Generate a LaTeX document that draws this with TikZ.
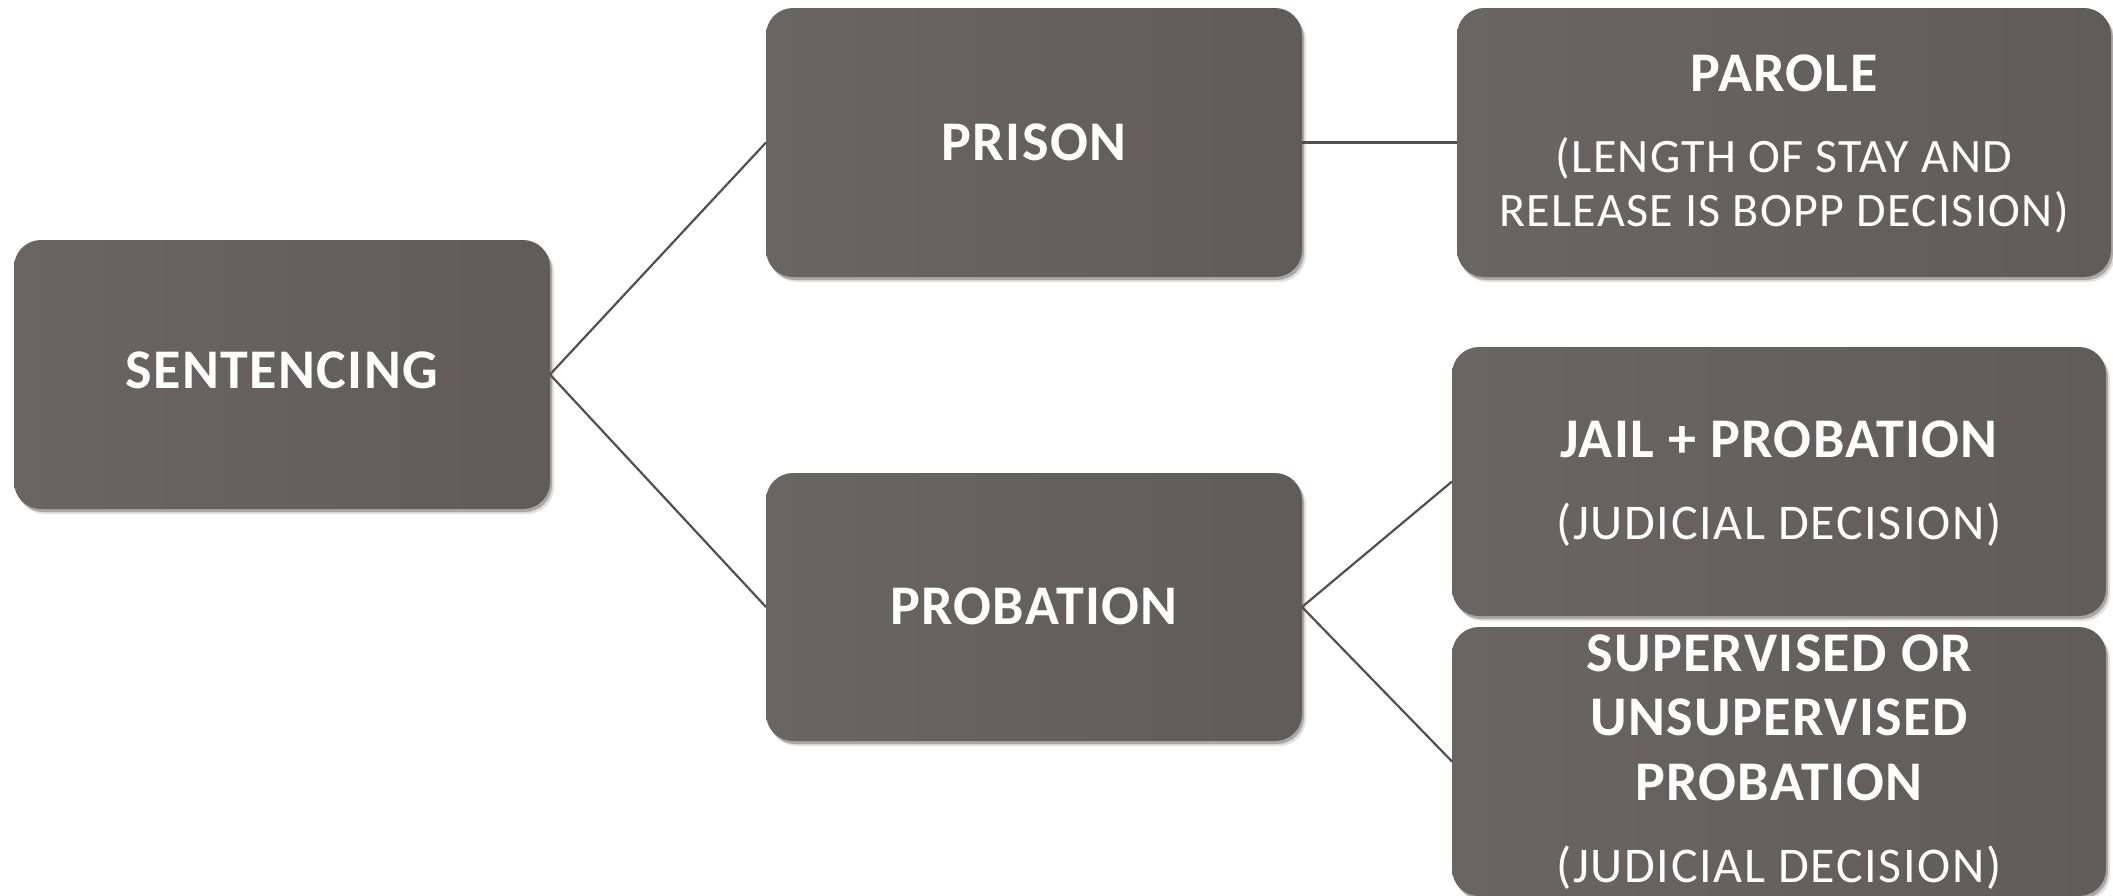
\documentclass[tikz,border=0pt]{standalone}
\usepackage{fontspec}
\setmainfont{Carlito}
\usetikzlibrary{shadows}
\definecolor{boxlight}{HTML}{6A6463}
\definecolor{boxdark}{HTML}{615B5A}
\definecolor{linegray}{HTML}{505050}
\newfontfamily\titlefont[LetterSpace=2.5]{Carlito}
\newfontfamily\subfont[LetterSpace=2.8]{Carlito}
\newfontfamily\judfont[LetterSpace=3.3]{Carlito}
\tikzset{
  box/.style={rounded corners=27pt, inner sep=0pt, outer sep=0pt, draw=none,
    left color=boxlight, right color=boxdark,
    drop shadow={shadow xshift=2pt, shadow yshift=-3pt, opacity=0.25, fill=black},
    drop shadow={shadow xshift=4pt, shadow yshift=-5pt, opacity=0.12, fill=black}},
  title/.style={anchor=base, text=white, font=\titlefont\bfseries\fontsize{56}{64}\selectfont, inner sep=0pt},
  sub/.style={anchor=base, text=white, font=\subfont\fontsize{48}{56}\selectfont, inner sep=0pt},
  jud/.style={anchor=base, text=white, font=\judfont\fontsize{50}{56}\selectfont, inner sep=0pt},
  link/.style={draw=linegray, line width=2.2pt}
}
\begin{document}
\begin{tikzpicture}[x=1pt, y=-1pt]
\useasboundingbox (0,0) rectangle (2113,895);
% boxes
\node[box, minimum width=536pt, minimum height=269pt] (sent)   at (282,374.5) {};
\node[box, minimum width=536pt, minimum height=269pt] (prison) at (1034,142.5) {};
\node[box, minimum width=536pt, minimum height=268pt] (prob)   at (1034,607) {};
\node[box, minimum width=654pt, minimum height=269pt] (parole) at (1784,142.5) {};
\node[box, minimum width=654pt, minimum height=269pt] (jail)   at (1779,481.5) {};
\node[box, minimum width=654pt, minimum height=269pt] (sup)    at (1779,761.5) {};
% connectors
\draw[link] (sent.east) -- (prison.west);
\draw[link] (sent.east) -- (prob.west);
\draw[link] (prison.east) -- (parole.west);
\draw[link] (prob.east) -- (jail.west);
\draw[link] (prob.east) -- (sup.west);
% texts
\node[title] (sent-t)    at (282,388)  {SENTENCING};
\node[title] (prison-t)  at (1034,160) {PRISON};
\node[title] (prob-t)    at (1034,624) {PROBATION};
\node[title] (parole-t)  at (1784,91)  {PAROLE};
\node[sub]   (parole-s1) at (1784,172) {(LENGTH OF STAY AND};
\node[sub]   (parole-s2) at (1784,226) {RELEASE IS BOPP DECISION)};
\node[title] (jail-t)    at (1779,457) {JAIL + PROBATION};
\node[jud]   (jail-s)    at (1779,539) {(JUDICIAL DECISION)};
\node[title] (sup-t1)    at (1779,671) {SUPERVISED OR};
\node[title] (sup-t2)    at (1779,735) {UNSUPERVISED};
\node[title] (sup-t3)    at (1779,800) {PROBATION};
\node[jud]   (sup-s)     at (1779,882) {(JUDICIAL DECISION)};
\end{tikzpicture}
\end{document}
